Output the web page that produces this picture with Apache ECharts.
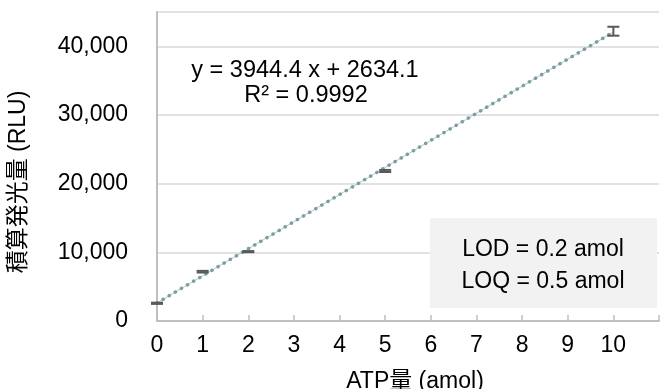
<!DOCTYPE html>
<html><head><meta charset="utf-8">
<script src="https://cdn.jsdelivr.net/npm/echarts@6/dist/echarts.min.js"></script>
<style>html,body{margin:0;padding:0;background:#fff}#c{width:662px;height:389px}</style>
</head><body><div id="c"></div>
<script>
// ATP amount (amol)
const atpAmol = [0, 1, 2, 5, 10];
// integrated luminescence mean (RLU)
const rluMean = [2580, 7180, 10100, 21850, 42200];
// error (± RLU)
const rluErr = [90, 120, 80, 150, 650];
// trend line endpoints (from equation)
const trendX = [0, 10];
const trendY = [2634.1, 42078.1];
const xTicks = [0,1,2,3,4,5,6,7,8,9,10];
const yTicks = [0,10000,20000,30000,40000];
const eqText = ['y = 3944.4 x + 2634.1', 'R² = 0.9992'];
const boxText = ['LOD = 0.2 amol', 'LOQ = 0.5 amol'];
const xTitle = 'ATP量 (amol)';
const yTitle = '積算発光量 (RLU)';

const FONT = "'Liberation Sans', Arial, 'Noto Sans CJK JP', sans-serif";
const FS = 23;
const chart = echarts.init(document.getElementById('c'));
const errData = atpAmol.map((x, i) => [x, rluMean[i] - rluErr[i], rluMean[i] + rluErr[i]]);

chart.setOption({
  animation: false,
  textStyle: { fontFamily: FONT },
  grid: { left: 157, top: 12, right: -32, bottom: 68, containLabel: false },
  xAxis: {
    type: 'value', min: 0, max: 11, interval: 1,
    axisLine: { show: true, lineStyle: { color: '#bfbfbf', width: 2 } },
    axisTick: { show: true, inside: true, length: 6, lineStyle: { color: '#bfbfbf', width: 1.5 } },
    axisLabel: { fontSize: FS, color: '#000', margin: 13, fontFamily: FONT,
      formatter: v => xTicks.indexOf(v) >= 0 ? String(v) : '' },
    splitLine: { show: false }
  },
  yAxis: {
    type: 'value', min: 0, max: 45000, interval: 10000,
    axisLine: { show: true, lineStyle: { color: '#bfbfbf', width: 2 } },
    axisTick: { show: false },
    axisLabel: { fontSize: FS, color: '#000', margin: 29, showMaxLabel: false, fontFamily: FONT,
      formatter: v => yTicks.indexOf(v) >= 0 ? v.toLocaleString('en-US') : '' },
    splitLine: { show: true, lineStyle: { color: '#d9d9d9', width: 1.5 } }
  },
  series: [
    {
      type: 'line', data: trendX.map((x, i) => [x, trendY[i]]),
      symbol: 'none', z: 2,
      lineStyle: { color: '#9ab6b8', width: 0.8 }
    },
    {
      type: 'line', data: trendX.map((x, i) => [x, trendY[i]]),
      symbol: 'none', z: 3,
      lineStyle: { color: '#7a9ea1', width: 3.5, type: [0.1, 7], cap: 'round' }
    },
    {
      type: 'custom', z: 4, clip: false,
      data: errData,
      renderItem: function (params, api) {
        const x = api.value(0);
        const lo = api.coord([x, api.value(1)]);
        const hi = api.coord([x, api.value(2)]);
        const hw = 6;
        const style = { stroke: '#595959', lineWidth: 2 };
        return {
          type: 'group',
          children: [
            { type: 'line', shape: { x1: lo[0], y1: lo[1], x2: hi[0], y2: hi[1] }, style },
            { type: 'line', shape: { x1: lo[0] - hw, y1: lo[1], x2: lo[0] + hw, y2: lo[1] }, style },
            { type: 'line', shape: { x1: hi[0] - hw, y1: hi[1], x2: hi[0] + hw, y2: hi[1] }, style }
          ]
        };
      }
    }
  ],
  graphic: [
    { type: 'text', x: 305, y: 71, z: 10,
      style: { text: eqText[0], font: '23.5px ' + FONT, fill: '#000', align: 'center', verticalAlign: 'middle' } },
    { type: 'text', x: 306, y: 96, z: 10,
      style: { text: eqText[1], font: '23.5px ' + FONT, fill: '#000', align: 'center', verticalAlign: 'middle' } },
    { type: 'rect', x: 430, y: 218, z: 10,
      shape: { width: 227, height: 90 }, style: { fill: '#f2f2f2' } },
    { type: 'text', x: 543, y: 250, z: 11,
      style: { text: boxText[0], font: FS + 'px ' + FONT, fill: '#000', align: 'center', verticalAlign: 'middle' } },
    { type: 'text', x: 543, y: 282, z: 11,
      style: { text: boxText[1], font: FS + 'px ' + FONT, fill: '#000', align: 'center', verticalAlign: 'middle' } },
    { type: 'text', x: 415, y: 382, z: 10,
      style: { text: xTitle, font: FS + 'px ' + FONT, fill: '#000', align: 'center', verticalAlign: 'middle' } },
    { type: 'text', x: 19, y: 182, rotation: Math.PI / 2, z: 10,
      style: { text: yTitle, font: FS + 'px ' + FONT, fill: '#000', align: 'center', verticalAlign: 'middle' } }
  ]
});
</script></body></html>
